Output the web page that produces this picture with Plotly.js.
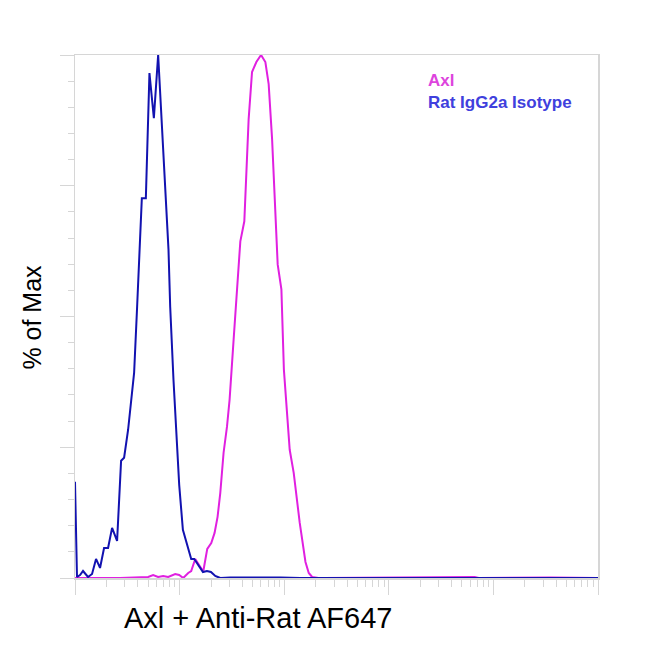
<!DOCTYPE html>
<html>
<head>
<meta charset="utf-8">
<script src="https://cdn.plot.ly/plotly-3.0.1.min.js"></script>
<style>
  html, body { margin: 0; padding: 0; background: #fff; }
  #graphDiv { width: 650px; height: 650px; }
</style>
</head>
<body>
<div id="graphDiv"></div>
<script>
// flow histogram: Axl vs isotype control

// isotype (blue) - fluorescence channel value and % of max
const isoX = [1.0, 1.045, 1.117, 1.193, 1.332, 1.455, 1.589, 1.735, 1.896, 2.071,
    2.262, 2.526, 2.758, 2.947, 3.219, 3.516, 3.675, 3.926, 4.148, 4.355,
    4.756, 5.149, 5.674, 6.237, 7.830, 8.128, 8.740, 9.421, 9.913, 10.75,
    11.75, 12.91, 13.80, 15.17, 16.72, 18.26, 19.94, 21.93, 24.49, 30.52,
    69.04, 91.96, 142.9, 100000]
const isoY = [18.4, 0.19, 0.57, 1.34, 0.19, 0.77, 3.64, 1.92, 5.75, 5.75,
    9.58, 7.09, 22.41, 22.99, 28.35, 35.06, 39.27, 51.92, 64.75, 72.61,
    72.61, 96.55, 87.93, 100, 62.84, 51.92, 37.9, 26.44, 17.8, 9.2,
    6.7, 3.64, 3.64, 2.49, 1.15, 1.34, 1.15, 0.38, 0, 0.1,
    0.2, 0.1, 0, 0]

// Axl stained (magenta)
const axlX = [1.0, 2.698, 5.004, 5.587, 6.237, 6.965, 7.778, 9.076, 9.913, 10.83,
    12.09, 12.91, 14.11, 15.40, 16.83, 18.38, 20.07, 21.60, 23.07, 24.49,
    26.33, 28.38, 30.06, 32.84, 38.07, 41.57, 45.71, 49.26, 54.17, 60.07,
    66.06, 71.04, 76.60, 86.63, 94.02, 99.33, 112.9, 123.3, 140.8, 159.7,
    171.7, 185.0, 212.6, 237.4, 6633, 7247, 19560, 28440, 35460, 100000]
const axlY = [0, 0, 0.19, 0.57, 0.19, 0.38, 0.19, 0.77, 0.57, 0,
    0.96, 1.34, 3.64, 2.49, 1.25, 5.56, 6.70, 8.62, 11.69, 16.28,
    23.95, 28.93, 34.10, 45.59, 64.37, 68.20, 87.74, 96.74, 98.66, 100,
    98.66, 94.44, 83.91, 59.96, 55.17, 39.85, 24.52, 20.11, 10.54, 3.07,
    0.96, 0.19, 0, 0, 0.19, 0, 0.1, 0.19, 0.1, 0]

const seriesNames = ['Axl', 'Rat IgG2a Isotype']
const xTitle = 'Axl + Anti-Rat AF647'
const yTitle = '% of Max'

let graphDiv = document.getElementById('graphDiv')
const fam = 'Liberation Sans, Arial, sans-serif'
const axisGray = '#d6d6d6'

let traceIso = {
    x: isoX,
    y: isoY,
    name: seriesNames[1],
    type: 'scatter',
    mode: 'lines',
    line: { color: '#1212b0', width: 2 }
}
let traceAxl = {
    x: axlX,
    y: axlY,
    name: seriesNames[0],
    type: 'scatter',
    mode: 'lines',
    line: { color: '#e020e0', width: 2 }
}

const layout = {
    width: 650,
    height: 650,
    margin: { l: 75, r: 52, t: 55, b: 72 },
    paper_bgcolor: '#fff',
    plot_bgcolor: '#fff',
    showlegend: false,
    font: { family: fam, color: '#000' },
    xaxis: {
        type: 'log',
        range: [0, 5],
        dtick: 1,
        ticks: 'outside',
        ticklen: 15,
        tickwidth: 1,
        tickcolor: axisGray,
        minor: { ticks: 'outside', ticklen: 7, tickcolor: axisGray, dtick: 'D1', showgrid: false },
        showticklabels: false,
        showgrid: false,
        zeroline: false,
        showline: true,
        linecolor: axisGray,
        linewidth: 1.5,
        mirror: true
    },
    yaxis: {
        range: [0, 100],
        dtick: 25,
        ticks: 'outside',
        ticklen: 14,
        tickwidth: 1,
        tickcolor: axisGray,
        minor: { ticks: 'outside', ticklen: 6, tickcolor: axisGray, dtick: 5, showgrid: false },
        showticklabels: false,
        showgrid: false,
        zeroline: false,
        showline: true,
        linecolor: axisGray,
        linewidth: 1.5,
        mirror: true
    },
    annotations: [
        { text: seriesNames[0], xref: 'paper', yref: 'paper', x: 0.672, y: 0.952,
          xanchor: 'left', yanchor: 'middle', showarrow: false,
          font: { family: fam, size: 17, color: '#dd44dd', weight: 'bold' } },
        { text: seriesNames[1], xref: 'paper', yref: 'paper', x: 0.672, y: 0.909,
          xanchor: 'left', yanchor: 'middle', showarrow: false,
          font: { family: fam, size: 17, color: '#4040dd', weight: 'bold' } },
        { text: xTitle, xref: 'paper', yref: 'paper', x: 0.349, y: -0.077,
          xanchor: 'center', yanchor: 'middle', showarrow: false,
          font: { family: fam, size: 29, color: '#000' } },
        { text: yTitle, xref: 'paper', yref: 'paper', x: -0.084, y: 0.498,
          xanchor: 'center', yanchor: 'middle', showarrow: false, textangle: -90,
          font: { family: fam, size: 25, color: '#000' } }
    ]
}

Plotly.newPlot(graphDiv, [traceAxl, traceIso], layout, { staticPlot: true })
</script>
</body>
</html>
